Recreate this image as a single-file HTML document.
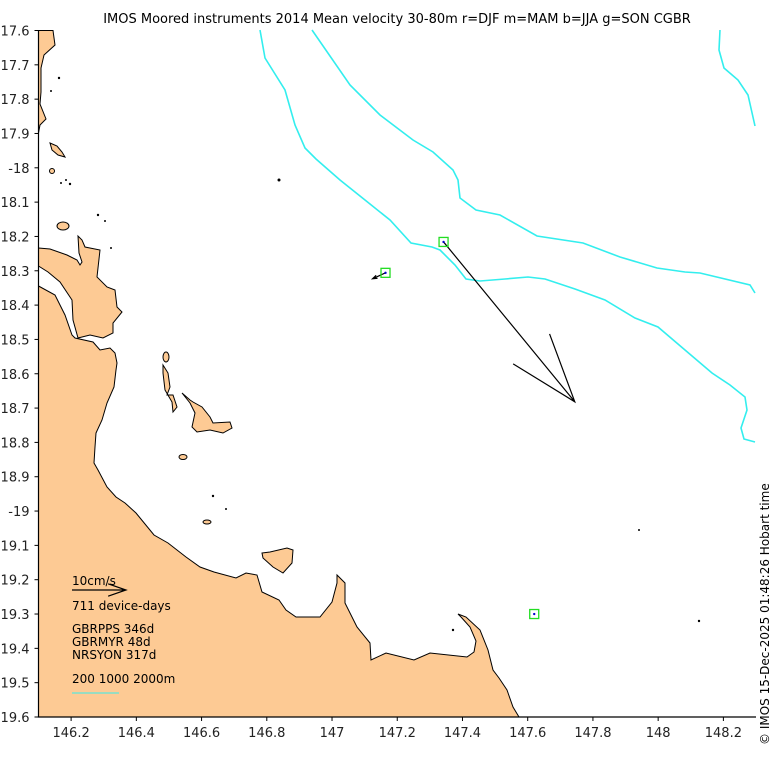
<!DOCTYPE html>
<html><head><meta charset="utf-8"><title>IMOS mean velocity</title>
<style>
html,body{margin:0;padding:0;background:#fff;}
svg{display:block;font-family:"DejaVu Sans","Liberation Sans",sans-serif;}
</style></head>
<body>
<svg id="chart" width="779" height="760" viewBox="0 0 779 760">
  <text x="397" y="23" font-size="13" text-anchor="middle" fill="#000">IMOS Moored instruments 2014 Mean velocity 30-80m r=DJF m=MAM b=JJA g=SON CGBR</text>
  <g id="land" fill="#fdca94" stroke="#000" stroke-width="1">
    <path d="M38.5,30.5 L53,30.5 L55,45 L44,55 L41,68 L41,92 L40,104 L46,119 L40,125 L38.5,133 Z"/>
    <path d="M38.5,248 L50,249 L67,255 L77,260 L80,265 L82,262 L79,253 L78,236 L82,240 L85,247 L100,250 L97,277 L107,287 L115,290 L117,307 L122,312 L113,323 L113,333 L103,338 L90,335 L78,338 L73,320 L72,300 L60,282 L48,272 L38.5,266 Z"/>
    <path d="M38.5,286 L55,295 L65,315 L72,335 L75,338 L93,342 L100,350 L110,348 L115,353 L117,363 L116,370 L114,387 L107,403 L102,420 L96,433 L95,447 L94,463 L98,470 L107,487 L116,497 L125,503 L136,513 L154,535 L168,543 L186,557 L200,567 L214,572 L236,578 L246,573 L257,575 L262,592 L279,600 L286,610 L296,617 L320,617 L332,602 L337,583 L337,575 L345,583 L345,603 L357,627 L370,643 L371,660 L386,653 L414,660 L430,653 L467,657 L474,652 L476,641 L470,627 L461,617 L458,614 L466,617 L480,630 L488,650 L493,670 L499,678 L507,690 L513,707 L519,717 L38.5,717 Z"/>
    <path d="M262,553 L270,552 L287,548 L293,550 L292,563 L283,573 L273,567 L263,558 Z"/>
    <path d="M163,365 L168,373 L170,387 L167,395 L173,395 L177,407 L173,412 L172,402 L165,390 L163,373 Z"/>
    <ellipse cx="166" cy="357" rx="3" ry="5"/>
    <path d="M182,393 L190,400 L193,402 L202,407 L210,417 L213,423 L230,422 L232,428 L223,433 L210,430 L197,432 L192,427 L195,413 L190,403 Z"/>
    <ellipse cx="183" cy="457" rx="4" ry="2.5"/>
    <ellipse cx="63" cy="226" rx="6" ry="4"/>
    <path d="M50,143 L57,146 L62,152 L65,157 L58,155 L52,150 Z"/>
    <ellipse cx="52" cy="171" rx="2.5" ry="2.5"/>
    <ellipse cx="207" cy="522" rx="4" ry="2"/>
  </g>
  <g fill="#000">
    <circle cx="279" cy="180" r="1.5"/><circle cx="59" cy="78" r="1.2"/><circle cx="51" cy="91" r="1"/>
    <circle cx="70" cy="184" r="1.2"/><circle cx="98" cy="215" r="1.2"/><circle cx="105" cy="221" r="1"/>
    <circle cx="111" cy="248" r="1"/><circle cx="213" cy="496" r="1.2"/><circle cx="226" cy="509" r="1"/>
    <circle cx="639" cy="530" r="1"/><circle cx="699" cy="621" r="1.2"/><circle cx="453" cy="630" r="1.2"/>
    <circle cx="61" cy="183" r="1"/><circle cx="66" cy="180" r="1"/>
  </g>
  <g fill="none" stroke="#33eeee" stroke-width="1.6">
    <polyline points="260,30 265,58 285,90 295,125 305,148 316,159 340,180 365,200 390,220 411,243 432,247 440,250 455,265 466,279 480,281 505,279 528,277 545,279 575,289 605,300 635,318 658,327 685,350 712,373 730,385 745,397 747,410 741,428 744,439 755,442"/>
    <polyline points="312,30 350,85 380,115 413,140 433,152 453,170 458,180 460,198 476,210 500,215 537,236 583,243 620,257 657,268 685,272 700,273 750,285 755,293"/>
    <polyline points="720,30 719,50 724,68 738,80 748,95 755,126"/>
  </g>
  <g id="axes"></g>
  <g id="marks"></g>
  <g font-size="12" fill="#000">
    <text x="72" y="585">10cm/s</text>
    <g id="legend-arrow"></g>
    <text x="72" y="610">711 device-days</text>
    <text x="72" y="633">GBRPPS 346d</text>
    <text x="72" y="646">GBRMYR 48d</text>
    <text x="72" y="659">NRSYON 317d</text>
    <text x="72" y="683">200 1000 2000m</text>
    <line x1="72" y1="693" x2="119" y2="693" stroke="#33eeee" stroke-width="1"/>
  </g>
  <text transform="translate(769,745) rotate(-90)" font-size="12" fill="#000">© IMOS 15-Dec-2025 01:48:26 Hobart time</text>
</svg>
<script>
const xTicks = [146.2, 146.4, 146.6, 146.8, 147, 147.2, 147.4, 147.6, 147.8, 148, 148.2];
const xTickLabels = ["146.2","146.4","146.6","146.8","147","147.2","147.4","147.6","147.8","148","148.2"];
const yTicks = [17.6,17.7,17.8,17.9,18,18.1,18.2,18.3,18.4,18.5,18.6,18.7,18.8,18.9,19,19.1,19.2,19.3,19.4,19.5,19.6];
const yTickLabels = ["17.6","17.7","17.8","17.9","-18","18.1","18.2","18.3","18.4","18.5","18.6","18.7","18.8","18.9","-19","19.1","19.2","19.3","19.4","19.5","19.6"];
const stationNames = ["GBRPPS","GBRMYR","NRSYON"];
const stationLon = [147.342, 147.164, 147.620];
const stationLat = [18.216, 18.306, 19.300];
const velU = [24.3, -2.4, 0.0];
const velV = [-29.6, -1.1, 0.0];
const scaleSpeed = [10];

const NS = "http://www.w3.org/2000/svg";
const X0 = 38.5, X1 = 756, LON0 = 146.1, LON1 = 148.3;
const Y0 = 30.5, Y1 = 717, LAT0 = 17.6, LAT1 = 19.6;
const PX_PER_CM = 5.4;
function xs(lon){ return X0 + (lon - LON0) * (X1 - X0) / (LON1 - LON0); }
function ys(lat){ return Y0 + (lat - LAT0) * (Y1 - Y0) / (LAT1 - LAT0); }
function mk(tag, attrs, parent){
  const el = document.createElementNS(NS, tag);
  for (const k in attrs) el.setAttribute(k, attrs[k]);
  parent.appendChild(el); return el;
}
function drawArrow(parent, x, y, u, v){
  const dx = u * PX_PER_CM, dy = -v * PX_PER_CM;
  const len = Math.hypot(dx, dy);
  if (len < 0.5) return;
  const tx = x + dx, ty = y + dy;
  const ang = Math.atan2(dy, dx);
  const hl = len * 0.35, ha = 19 * Math.PI / 180;
  const d = "M" + x + "," + y + " L" + tx + "," + ty +
    " M" + (tx - hl*Math.cos(ang-ha)) + "," + (ty - hl*Math.sin(ang-ha)) + " L" + tx + "," + ty +
    " L" + (tx - hl*Math.cos(ang+ha)) + "," + (ty - hl*Math.sin(ang+ha));
  const p = mk("path", {d: d, fill: "none", stroke: "#000", "stroke-width": 1.2}, parent);
  
  
}
const axes = document.getElementById("axes");
const sp = mk("path", {d: "M"+X0+","+Y0+" L"+X0+","+Y1+" L"+X1+","+Y1, fill:"none", stroke:"#000", "stroke-width":1.2}, axes);


xTicks.forEach((t, i) => {
  const x = xs(t);
  mk("line", {x1:x, y1:Y1, x2:x, y2:Y1+4, stroke:"#000"}, axes);
  const tx = mk("text", {x:x, y:Y1+20, "font-size":13, "text-anchor":"middle", fill:"#222"}, axes);
  tx.textContent = xTickLabels[i];
  
  
});
yTicks.forEach((t, i) => {
  const y = ys(t);
  mk("line", {x1:X0-4, y1:y, x2:X0, y2:y, stroke:"#000"}, axes);
  const tx = mk("text", {x:X0-9, y:y+5, "font-size":13, "text-anchor":"end", fill:"#222"}, axes);
  tx.textContent = yTickLabels[i];
  
  
});
const marks = document.getElementById("marks");
stationNames.forEach((n, i) => {
  const x = xs(stationLon[i]), y = ys(stationLat[i]);
  drawArrow(marks, x, y, velU[i], velV[i]);
  const r = mk("rect", {x:x-4.5, y:y-4.5, width:9, height:9, fill:"none", stroke:"#22dd22", "stroke-width":1.3}, marks);
  
  
  const c = mk("circle", {cx:x, cy:y, r:1.2, fill:"#0000cc"}, marks);
  
  
});
drawArrow(document.getElementById("legend-arrow"), 72, 590, scaleSpeed[0], 0);
</script>
</body></html>
